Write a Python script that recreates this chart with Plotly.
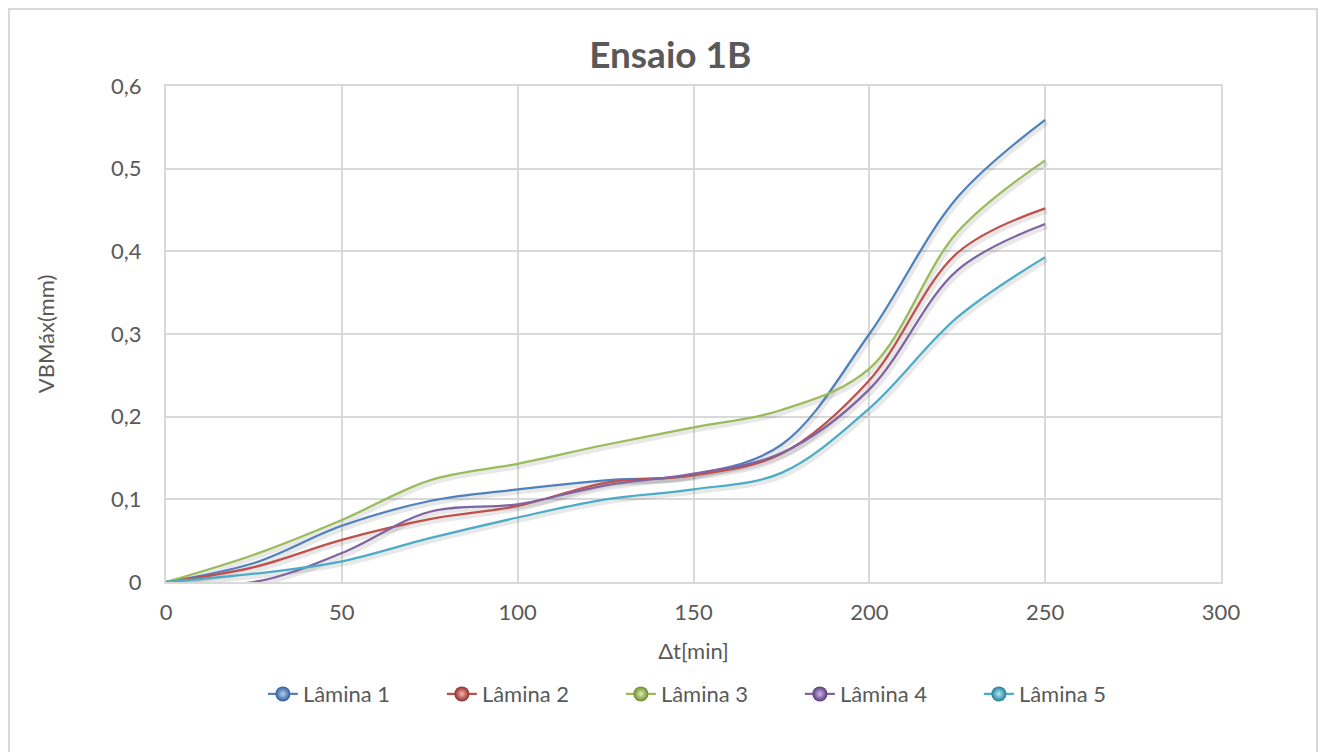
import plotly.graph_objects as go

# Elapsed machining time (min) and maximum flank wear VBmax (mm) per insert
tempo = [0, 25, 50, 75, 100, 125, 150, 175, 200, 225, 250]
lamina_1 = [0, 0.023, 0.068, 0.098, 0.112, 0.123, 0.130, 0.166, 0.300, 0.465, 0.559]
lamina_2 = [0, 0.018, 0.051, 0.076, 0.092, 0.120, 0.129, 0.155, 0.244, 0.398, 0.452]
lamina_3 = [0, 0.033, 0.075, 0.123, 0.143, 0.166, 0.187, 0.208, 0.258, 0.423, 0.510]
lamina_4 = [0, 0.000, 0.035, 0.085, 0.094, 0.117, 0.131, 0.156, 0.233, 0.377, 0.433]
lamina_5 = [0, 0.010, 0.025, 0.053, 0.078, 0.100, 0.112, 0.132, 0.210, 0.320, 0.393]

nomes = ["Lâmina 1", "Lâmina 2", "Lâmina 3", "Lâmina 4", "Lâmina 5"]
series = [lamina_1, lamina_2, lamina_3, lamina_4, lamina_5]
cores = ["#4F81BD", "#C0504D", "#9BBB59", "#8064A2", "#4BACC6"]
cores_escuras = ["#2E5C99", "#8E2A27", "#6B8A2E", "#55397A", "#217F99"]
cores_claras = ["#B5CFF2", "#F5B3B1", "#DDF0B0", "#CDB8E8", "#B3E8F5"]

x_ticks = [0, 50, 100, 150, 200, 250, 300]
y_ticks = [0, 0.1, 0.2, 0.3, 0.4, 0.5, 0.6]

FONTE = "Lato, 'Open Sans', sans-serif"
CINZA = "#595959"
GRADE = "#D9D9D9"

fig = go.Figure()

# soft drop shadow beneath each curve
for ys in series:
    fig.add_trace(go.Scatter(
        x=[t + 0.6 for t in tempo], y=[v - 0.003 for v in ys],
        mode="lines", line=dict(color="rgba(0,0,0,0.09)", width=5,
                                shape="spline", smoothing=1.0),
        showlegend=False, hoverinfo="skip"))

# smoothed wear curves
for nome, ys, cor in zip(nomes, series, cores):
    fig.add_trace(go.Scatter(
        x=tempo, y=ys, mode="lines", name=nome,
        line=dict(color=cor, width=2.25, shape="spline", smoothing=1.0),
        showlegend=False))

# legend entries with spherical markers
for nome, cor, escura, clara in zip(nomes, cores, cores_escuras, cores_claras):
    fig.add_trace(go.Scatter(
        x=[None], y=[None], mode="lines+markers", name=nome,
        line=dict(color=cor, width=2.25),
        marker=dict(size=15, color=escura,
                    gradient=dict(type="radial", color=clara),
                    line=dict(width=0))))

fig.update_layout(
    width=1322, height=752,
    paper_bgcolor="white", plot_bgcolor="white",
    separators=",.",
    margin=dict(l=166, r=101, t=86, b=170),
    font=dict(family=FONTE, size=22, color=CINZA),
    title=dict(text="<b>Ensaio 1B</b>", x=0.507, xanchor="center",
               y=0.927, yanchor="middle",
               font=dict(family=FONTE, size=37, color=CINZA)),
    xaxis=dict(range=[0, 300], tickvals=x_ticks, showgrid=True,
               gridcolor=GRADE, gridwidth=2, zeroline=False,
               showline=True, linecolor=GRADE, linewidth=2, mirror=True,
               ticks="", ticklabelstandoff=10,
               title=dict(text="Δt[min]", standoff=19,
                          font=dict(size=22, color=CINZA))),
    yaxis=dict(range=[0, 0.6], tickvals=y_ticks, showgrid=True,
               gridcolor=GRADE, gridwidth=2, zeroline=False,
               showline=True, linecolor=GRADE, linewidth=2, mirror=True,
               ticks="", ticklabelstandoff=18,
               title=dict(text="VBMáx(mm)", standoff=50,
                          font=dict(size=22, color=CINZA))),
    legend=dict(orientation="h", x=0.516, xanchor="center",
                y=-0.226, yanchor="middle",
                entrywidth=134, entrywidthmode="pixels",
                font=dict(size=22, color=CINZA), bgcolor="rgba(0,0,0,0)"),
    shapes=[dict(type="rect", xref="paper", yref="paper",
                 x0=-0.1488, x1=1.091, y0=-0.37, y1=1.155,
                 line=dict(color=GRADE, width=2), layer="below")],
)

fig.write_html("out.html")
